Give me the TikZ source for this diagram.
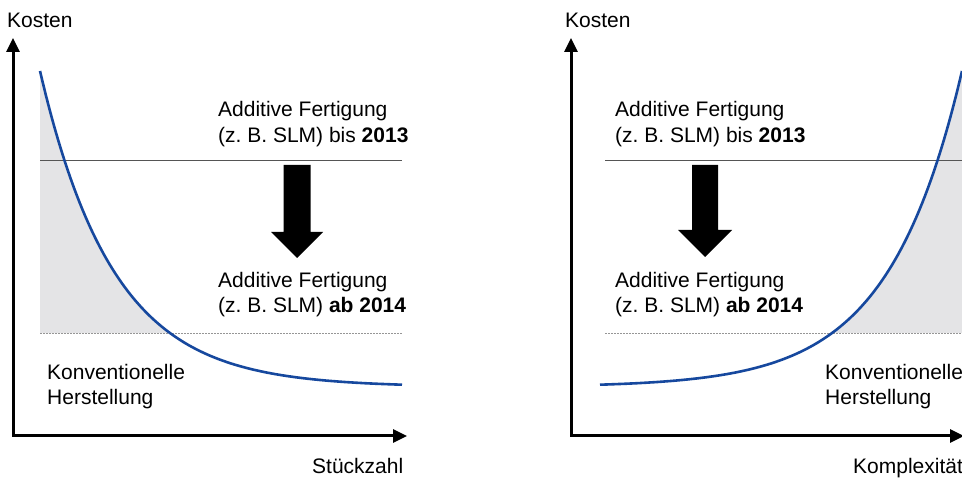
\documentclass[tikz,border=0pt]{standalone}
\usepackage{fontspec}
\setmainfont{Liberation Sans}
\usetikzlibrary{arrows.meta}
\definecolor{curveblue}{RGB}{22,72,158}
\definecolor{shadegray}{RGB}{228,228,230}
\definecolor{linegray}{RGB}{85,85,85}
\definecolor{dotgray}{RGB}{150,150,150}
\frenchspacing
\begin{document}
\begin{tikzpicture}[x=1pt,y=-1pt,
  lbl/.style={anchor=base west, inner sep=0pt, font=\fontsize{21}{25}\selectfont},
  axis/.style={line width=3pt, line join=miter, {Triangle[length=14pt,width=13pt]}-{Triangle[length=14pt,width=13pt]}},
  cost/.style={draw=curveblue, line width=2.6pt},
  upper/.style={draw=linegray, line width=0.9pt},
  lower/.style={draw=dotgray, line width=0.9pt, dash pattern=on 1.5pt off 1.5pt},
  bigarrow/.style={fill=black},
  shadeband/.style={fill=shadegray}]
\useasboundingbox (0,0) rectangle (962,478);
\fill[white] (0,0) rectangle (962,478);

% ---------- left panel ----------
\fill[shadeband] (40,333) -- plot[domain=40:170, samples=60] (\x,{387-316*exp(-0.0136*(\x-40))}) -- cycle;
\draw[upper] (40,160) -- (402,160);
\draw[lower] (40,333) -- (402,333);
\draw[cost] plot[domain=40:402, samples=120] (\x,{387-316*exp(-0.0136*(\x-40))});
\coordinate (LyTop) at (13,38);
\coordinate (Lorigin) at (13,436);
\coordinate (LxEnd) at (407,436);
\draw[axis] (LyTop) -- (Lorigin) -- (LxEnd);
\fill[bigarrow] (283.5,165) -- (310.5,165) -- (310.5,232) -- (323,232) -- (297,258) -- (271,232) -- (283.5,232) -- cycle;

\node[lbl] (kostenL) at (7,28) {Kosten};
\node[lbl] (afLa) at (218,117) {Additive Fertigung};
\node[lbl] (afLb) at (218,143) {(z. B. SLM) bis \textbf{2013}};
\node[lbl] (afLc) at (218,288) {Additive Fertigung};
\node[lbl] (afLd) at (218,313) {(z. B. SLM) \textbf{ab 2014}};
\node[lbl] (konvLa) at (47,380) {Konventionelle};
\node[lbl] (konvLb) at (47,405) {Herstellung};
\node[lbl] (stueck) at (312,473) {Stückzahl};

% ---------- right panel ----------
\fill[shadeband] (832,333) -- plot[domain=832:962, samples=60] (\x,{387-316*exp(-0.0136*(962-\x))}) -- (962,333) -- cycle;
\draw[upper] (605,160) -- (962,160);
\draw[lower] (605,333) -- (962,333);
\draw[cost] plot[domain=600:962, samples=120] (\x,{387-316*exp(-0.0136*(962-\x))});
\coordinate (RyTop) at (571,38);
\coordinate (Rorigin) at (571,436);
\coordinate (RxEnd) at (964,436);
\draw[axis] (RyTop) -- (Rorigin) -- (RxEnd);
\fill[bigarrow] (692,165) -- (718,165) -- (718,230) -- (732,230) -- (705,257) -- (678,230) -- (692,230) -- cycle;

\node[lbl] (kostenR) at (565,28) {Kosten};
\node[lbl] (afRa) at (615,117) {Additive Fertigung};
\node[lbl] (afRb) at (615,143) {(z. B. SLM) bis \textbf{2013}};
\node[lbl] (afRc) at (615,288) {Additive Fertigung};
\node[lbl] (afRd) at (615,313) {(z. B. SLM) \textbf{ab 2014}};
\node[lbl] (konvRa) at (825,380) {Konventionelle};
\node[lbl] (konvRb) at (825,405) {Herstellung};
\node[lbl] (komplex) at (853,473) {Komplexität};
\end{tikzpicture}
\end{document}
